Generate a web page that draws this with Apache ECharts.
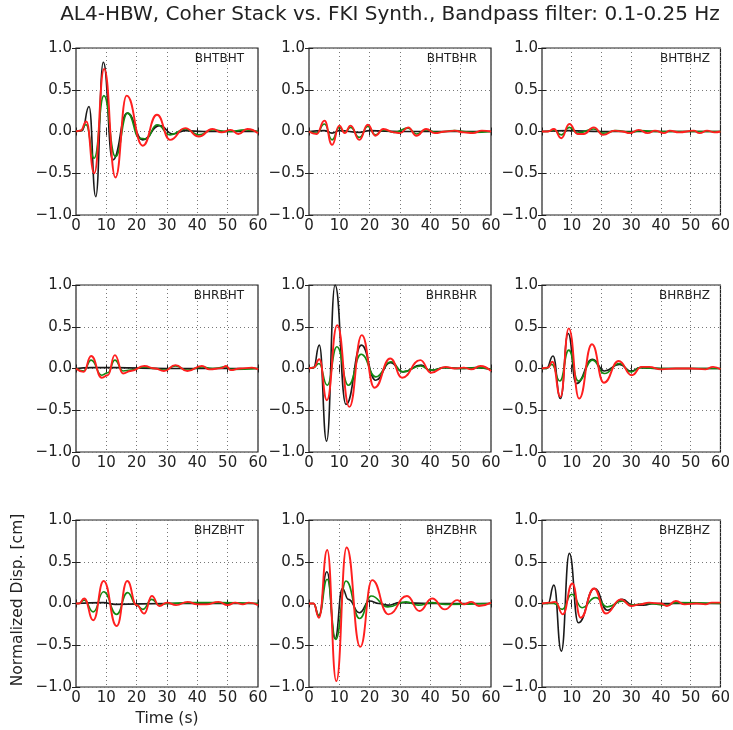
<!DOCTYPE html>
<html>
<head>
<meta charset="utf-8">
<script src="https://cdn.jsdelivr.net/npm/echarts@6/dist/echarts.min.js"></script>
<style>
  html, body { margin: 0; padding: 0; background: #fff; }
  #chart { width: 733px; height: 730px; }
</style>
</head>
<body>
<div id="chart"></div>
<script>
// Time axis ticks (s) and amplitude ticks
const xTicks = [0, 10, 20, 30, 40, 50, 60];
const yTicks = [-1.0, -0.5, 0.0, 0.5, 1.0];

// Panel names (row = source component, column = receiver component)
const panelNames = ['BHTBHT', 'BHTBHR', 'BHTBHZ',
                    'BHRBHT', 'BHRBHR', 'BHRBHZ',
                    'BHZBHT', 'BHZBHR', 'BHZBHZ'];

// [time (s), normalized displacement] — black trace
const BHTBHT_k = [[0,0],[2,0.01],[4.3,0.3],[6.5,-0.78],[9,0.83],[12.1,-0.34],[16.9,0.22],[22,-0.1],[27.5,0.07],[32,-0.03],[36,0.01],[42,0],[50,0],[60,0]];
const BHTBHR_k = [[0,0],[5,0.01],[7.6,-0.02],[10,0.01],[16.6,-0.01],[20,0.01],[30,0],[60,0]];
const BHTBHZ_k = [[0,0],[9,0.01],[20,0],[60,0]];
const BHRBHT_k = [[0,0],[5,0.01],[12.8,0.01],[30,0],[60,0]];
const BHRBHR_k = [[0,0],[1.5,0.01],[3.4,0.28],[5.8,-0.87],[8.6,1.0],[12.2,-0.43],[17.3,0.28],[22,-0.14],[26.8,0.07],[31,-0.04],[37,0.04],[40,-0.02],[45,0.01],[50,0],[55,0.01],[60,-0.01]];
const BHRBHZ_k = [[0,0],[1.5,0],[3.7,0.15],[6.2,-0.36],[8.8,0.42],[11.5,-0.18],[17,0.11],[21,-0.03],[26,0.05],[30,-0.03],[33,0.01],[40,0],[60,0]];
const BHZBHT_k = [[0,0],[9,0.01],[13,-0.01],[30,0],[60,0]];
const BHZBHR_k = [[0,0],[1.5,0],[3.2,-0.15],[5.9,0.38],[8.6,-0.42],[11,0.18],[13,0.05],[16.6,-0.11],[20,0.03],[23,0],[26,-0.02],[30,0.01],[40,0],[60,0]];
const BHZBHZ_k = [[0,0],[2,0],[4,0.22],[6.5,-0.57],[9.2,0.6],[12.2,-0.23],[17.7,0.18],[22,-0.08],[27,0.05],[30.5,-0.02],[34,-0.02],[38,0],[60,0]];

// red trace
const BHTBHT_r = [[0,0],[1.5,0.01],[3.4,0.12],[6,-0.5],[9.3,0.75],[13,-0.55],[16.7,0.43],[22,-0.17],[26.7,0.2],[31,-0.1],[36,0.04],[40.5,-0.06],[45,0.03],[48,-0.01],[51,0.02],[53.5,-0.03],[56.5,0.03],[60,-0.02]];
const BHTBHR_r = [[0,0],[2.5,-0.03],[5.1,0.13],[7.6,-0.16],[10,0.07],[11.8,-0.02],[13.7,0.07],[16.6,-0.1],[19.4,0.08],[21.9,-0.05],[24.5,0.03],[28,-0.01],[30,-0.02],[32.7,0.05],[35.4,-0.05],[38.6,0.03],[41.5,-0.02],[45,0],[48,0.01],[51,-0.01],[54,-0.02],[57,0.01],[60,0]];
const BHTBHZ_r = [[0,0],[2,0],[4,0.03],[6.5,-0.08],[9.2,0.09],[12,-0.03],[14,-0.03],[17.4,0.05],[20.5,-0.04],[24.5,0.01],[27,0],[29.5,-0.02],[32.5,0.02],[35.5,-0.02],[38,0.01],[41,-0.02],[43,0.01],[46,-0.01],[51,0.01],[53,-0.02],[55.5,0.01],[58,-0.01],[60,0]];
const BHRBHT_r = [[0,0],[2.5,-0.04],[5,0.15],[8.5,-0.11],[10.5,-0.08],[12.8,0.16],[15.5,-0.06],[18,-0.03],[22.5,0.03],[26,0],[29,-0.03],[32.8,0.04],[36.7,-0.03],[41.5,0.03],[44,-0.01],[48,0.005],[49.5,0.03],[51,-0.02],[54,0],[58,0.01],[60,-0.01]];
const BHRBHR_r = [[0,0],[1.5,0.01],[3.4,0.11],[5.9,-0.38],[9.3,0.52],[13.3,-0.46],[17.4,0.4],[21.6,-0.23],[26.8,0.12],[30.7,-0.11],[36.7,0.1],[40.2,-0.05],[45,0.02],[48,0],[51,0.01],[53.5,-0.01],[56.5,0.03],[60,-0.03]];
const BHRBHZ_r = [[0,0],[2,0.01],[3.5,0.08],[6.2,-0.34],[9,0.48],[12.5,-0.36],[16.8,0.29],[20.8,-0.17],[25.8,0.09],[30.2,-0.08],[33.5,0.02],[36,0.02],[40,-0.01],[45,0],[50,0],[55,-0.01],[57.5,0.02],[60,-0.01]];
const BHZBHT_r = [[0,0],[1,0],[2.7,0.06],[5.7,-0.2],[9.1,0.27],[13.4,-0.27],[16.9,0.27],[20,-0.02],[22.5,-0.12],[25,0.09],[27.5,-0.03],[30,0.01],[33,-0.02],[36.8,0.02],[40,-0.01],[43,-0.01],[47,0.02],[50,-0.02],[52.5,0.01],[55,-0.01],[57,0.01],[60,-0.02]];
const BHZBHR_r = [[0,0],[1.5,0],[3.3,-0.17],[6,0.64],[9,-0.93],[12.4,0.67],[16.9,-0.52],[20.8,0.28],[26.2,-0.13],[32.3,0.09],[36.4,-0.09],[40.6,0.06],[44.8,-0.07],[48.9,0.04],[51,-0.01],[53.5,0.02],[56,-0.03],[60,0.01]];
const BHZBHZ_r = [[0,0],[3,0.01],[4.5,0.02],[7,-0.13],[10.2,0.24],[13,-0.17],[17.5,0.18],[21.5,-0.12],[26.5,0.05],[30,-0.03],[33,-0.01],[36,0.01],[40,0],[42,-0.03],[45,0.03],[48,-0.01],[52,0],[55,-0.01],[57,0.01],[60,0.01]];

// green trace
const BHTBHT_g = [[0,0],[1.5,0.01],[3.3,0.08],[6,-0.32],[9.2,0.43],[13,-0.3],[17,0.22],[21,-0.08],[23,-0.09],[26.7,0.08],[31,-0.04],[36,0.03],[40.5,-0.04],[45,0.02],[50,0],[56,0.02],[60,0]];
const BHTBHR_g = [[0,0],[2.5,-0.02],[5.1,0.09],[7.6,-0.1],[10,0.05],[11.8,-0.01],[13.7,0.05],[16.6,-0.07],[19.4,0.06],[21.9,-0.04],[24.5,0.02],[28,-0.01],[32.7,0.04],[35.4,-0.03],[38.6,0.02],[42,-0.01],[48,0.01],[54,-0.01],[60,0]];
const BHTBHZ_g = [[0,0],[2,0],[4,0.02],[6.5,-0.04],[9.2,0.05],[12,-0.02],[17.4,0.03],[20.5,-0.02],[25,0.01],[30,-0.01],[33,0.01],[40,0],[60,0]];
const BHRBHT_g = [[0,0],[2.5,-0.03],[5,0.1],[8.5,-0.08],[10.5,-0.05],[12.8,0.1],[15.5,-0.03],[18,-0.02],[22.5,0.02],[26,0],[29,-0.02],[32.8,0.03],[36.7,-0.02],[41.5,0.02],[45,0],[49.5,0.02],[51,-0.01],[60,0]];
const BHRBHR_g = [[0,0],[1.5,0.01],[3.3,0.06],[6,-0.2],[9.2,0.26],[13,-0.2],[17.2,0.17],[22,-0.1],[27,0.08],[31,-0.04],[36.8,0.03],[40,-0.02],[45,0.01],[50,0],[56,0.01],[60,-0.01]];
const BHRBHZ_g = [[0,0],[1.5,0],[3.3,0.05],[6,-0.15],[9,0.22],[12.2,-0.15],[17,0.1],[21,-0.06],[26,0.06],[30,-0.04],[33,0.01],[40,0],[60,0]];
const BHZBHT_g = [[0,0],[1,0],[2.7,0.04],[5.7,-0.1],[9.1,0.14],[13.4,-0.13],[17,0.13],[20,-0.02],[22,-0.07],[25,0.05],[27.5,-0.02],[30,0],[37,0.01],[47,0.01],[60,0]];
const BHZBHR_g = [[0,0],[1.5,0],[3.3,-0.14],[6,0.29],[8.8,-0.43],[12.2,0.27],[16.7,-0.18],[20.5,0.09],[26,-0.04],[32,0.02],[36,-0.02],[40.5,0.01],[45,-0.01],[60,0]];
const BHZBHZ_g = [[0,0],[4,0],[6.8,-0.07],[10,0.11],[13.5,-0.05],[18,0.07],[22,-0.04],[27,0.03],[30,-0.02],[35,0],[42,-0.02],[45,0.01],[60,0]];

const blackTraces = [BHTBHT_k, BHTBHR_k, BHTBHZ_k, BHRBHT_k, BHRBHR_k, BHRBHZ_k, BHZBHT_k, BHZBHR_k, BHZBHZ_k];
const redTraces   = [BHTBHT_r, BHTBHR_r, BHTBHZ_r, BHRBHT_r, BHRBHR_r, BHRBHZ_r, BHZBHT_r, BHZBHR_r, BHZBHZ_r];
const greenTraces = [BHTBHT_g, BHTBHR_g, BHTBHZ_g, BHRBHT_g, BHRBHR_g, BHRBHZ_g, BHZBHT_g, BHZBHR_g, BHZBHZ_g];

// Layout of the 3x3 panel grid (pixels)
const colLeft = [76, 309, 542];
const rowTop = [48, 285, 520];
const panelW = 182;
const panelH = 167;

const FONT = "'DejaVu Sans'";
const INK = '#222';
const fmtNum = v => (v < 0 ? '\u2212' : '') + Math.abs(v).toFixed(1);

const grids = [], xAxes = [], yAxes = [], series = [];
const texts = [];

texts.push({
  type: 'text', x: 390, y: 15,
  style: { text: 'AL4-HBW, Coher Stack vs. FKI Synth., Bandpass filter: 0.1-0.25 Hz',
           fontFamily: FONT, fontSize: 20, fill: INK, align: 'center', verticalAlign: 'middle' }
});

const dotted = { show: true, lineStyle: { color: '#777', type: [1, 3], width: 1 } };
const tickIn = { show: true, inside: true, length: 4, lineStyle: { color: INK } };

panelNames.forEach((name, i) => {
  const r = Math.floor(i / 3), c = i % 3;
  grids.push({
    left: colLeft[c], top: rowTop[r], width: panelW, height: panelH,
    show: true, borderColor: INK, borderWidth: 1.2, backgroundColor: '#fff'
  });
  // bottom / left axes carry the labels
  xAxes.push({
    type: 'value', gridIndex: i, position: 'bottom',
    min: xTicks[0], max: xTicks[xTicks.length - 1], interval: 10,
    axisLine: { show: false }, axisTick: tickIn,
    axisLabel: { fontFamily: FONT, fontSize: 15, color: INK, margin: 4 },
    splitLine: dotted
  });
  yAxes.push({
    type: 'value', gridIndex: i, position: 'left',
    min: yTicks[0], max: yTicks[yTicks.length - 1], interval: 0.5,
    axisLine: { show: false }, axisTick: tickIn,
    axisLabel: { fontFamily: FONT, fontSize: 15, color: INK, margin: 4, formatter: fmtNum },
    splitLine: dotted
  });
  // top / right axes: tick marks only
  xAxes.push({
    type: 'value', gridIndex: i, position: 'top',
    min: xTicks[0], max: xTicks[xTicks.length - 1], interval: 10,
    axisLine: { show: false }, axisTick: tickIn,
    axisLabel: { show: false }, splitLine: { show: false }
  });
  yAxes.push({
    type: 'value', gridIndex: i, position: 'right',
    min: yTicks[0], max: yTicks[yTicks.length - 1], interval: 0.5,
    axisLine: { show: false }, axisTick: tickIn,
    axisLabel: { show: false }, splitLine: { show: false }
  });
  const traces = [
    { data: blackTraces[i], color: '#1a1a1a', width: 1.6 },
    { data: greenTraces[i], color: '#138a13', width: 1.6 },
    { data: redTraces[i],   color: '#ff1f1f', width: 1.9 }
  ];
  traces.forEach(t => series.push({
    type: 'line', xAxisIndex: 2 * i, yAxisIndex: 2 * i, data: t.data,
    smooth: 0.5, smoothMonotone: 'x', showSymbol: false, symbol: 'none',
    lineStyle: { color: t.color, width: t.width }, silent: true, animation: false
  }));
  texts.push({
    type: 'text', x: colLeft[c] + panelW - 14, y: rowTop[r] + 11, z: 10,
    style: { text: name, fontFamily: FONT, fontSize: 12, fill: INK,
             align: 'right', verticalAlign: 'middle' }
  });
});

texts.push({
  type: 'text', x: 18, y: 600, rotation: Math.PI / 2,
  style: { text: 'Normalized Disp. [cm]', fontFamily: FONT, fontSize: 15.5, fill: INK,
           align: 'center', verticalAlign: 'middle' }
});
texts.push({
  type: 'text', x: 167, y: 719,
  style: { text: 'Time (s)', fontFamily: FONT, fontSize: 15.5, fill: INK,
           align: 'center', verticalAlign: 'middle' }
});

const chart = echarts.init(document.getElementById('chart'), null, { renderer: 'canvas' });
chart.setOption({
  backgroundColor: '#fff',
  animation: false,
  grid: grids,
  xAxis: xAxes,
  yAxis: yAxes,
  series: series,
  graphic: texts
});
</script>
</body>
</html>
